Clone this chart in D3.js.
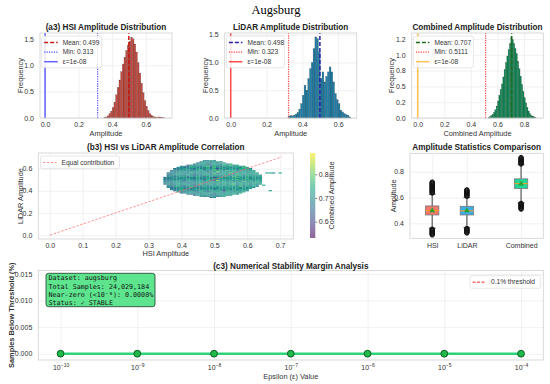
<!DOCTYPE html>
<html>
<head>
<meta charset="utf-8">
<script src="https://cdn.jsdelivr.net/npm/d3@7"></script>
<style>
  body { margin: 0; background: #fff; }
  svg { font-family: "Liberation Sans", Arial, sans-serif; }
</style>
</head>
<body>
<script>
// ---------- data ----------
const binWidth = 0.01;

const hsiStart = 0.35;
const hsiFreq = [0.01,0.02,0.04,0.08,0.13,0.20,0.30,0.44,0.58,0.72,0.88,1.02,1.15,1.28,1.38,1.45,1.53,1.50,
                 1.40,1.25,1.05,0.85,0.66,0.48,0.33,0.22,0.14,0.08,0.05,0.03,0.02,0.01,0.02,0.02,0.01,0.01];

const lidarStart = 0.32;
const lidarFreq = [0.03,0.04,0.04,0.05,0.07,0.10,0.16,0.26,0.41,0.59,0.50,0.71,0.89,1.00,1.25,1.46,1.43,1.19,
                   0.71,0.83,0.65,0.75,0.83,0.92,0.83,0.65,0.44,0.33,0.26,0.14,0.11,0.08,0.06,0.05,0.02];

const combStart = 0.53;
const combFreq = [0.01,0.02,0.04,0.06,0.09,0.13,0.19,0.27,0.36,0.45,0.54,0.65,0.77,0.88,0.98,1.08,1.18,1.28,
                  1.24,1.18,1.10,1.02,0.90,0.78,0.66,0.53,0.42,0.32,0.24,0.17,0.11,0.07,0.04,0.03,0.02,0.01];

const stats = [
  { name: 'HSI',      mean: 0.499, min: 0.313 },
  { name: 'LiDAR',    mean: 0.498, min: 0.323 },
  { name: 'Combined', mean: 0.707, min: 0.5111 }
];
const epsilonValue = 1e-8;

// scatter cloud: rows of LiDAR amplitude (top 0.67 -> bottom 0.34), columns of HSI amplitude 0.35 -> 0.70
// each digit = combined amplitude level, '.' = no samples
const cloudTopL = 0.67, cloudLeftH = 0.35, cloudStep = 0.01;
const combinedLevels = [0.53,0.56,0.59,0.62,0.66,0.70,0.74,0.78,0.82,0.86];
const cloudRows = [
  "............5465....................",
  "...........5564565..................",
  "..........456556465.................",
  ".........556545665756...............",
  ".......4556565465566756.............",
  ".....55465556756546565665...........",
  "....5545665556475656566576..........",
  "...455655465565635656556665.........",
  "...545565556465756556656566.........",
  "..45565545665556565766565656........",
  "..54556565556465856556566565........",
  ".4556554656556465565756565665..665.6",
  ".5455656545565575656556656566.......",
  ".45565565455665565656576566565......",
  ".55456556565456655665756565656......",
  "455565645565565256565676565665......",
  "545655565465565656556656575656......",
  "455456565565465565665675656566......",
  "545565456556565385656556566565......",
  "455655565465565656656565756566......",
  "554565545656556565665656565665......",
  "455565655456565565656756565656......",
  ".5456556545655656565665656565.6.....",
  ".4556545655465565656565756565.......",
  ".545565565456556565665656565........",
  "..4556545565565456565665656.........",
  "..545655465565656556565656..........",
  "...45565545655656526565665......6...",
  "....554565565456565665656...........",
  ".....4556545656565565656............",
  ".......5456556545656565.............",
  ".........455654565656...............",
  "...........54565456.................",
  "..............45...................."
];

// box plot summary
const boxNames = ['HSI', 'LiDAR', 'Combined'];
const boxPos = [1, 1.78, 3];
const boxColors = ['#f0796b', '#3eaee6', '#22d69a'];
const boxQ1 = [0.465, 0.465, 0.670];
const boxMedian = [0.500, 0.497, 0.708];
const boxQ3 = [0.535, 0.532, 0.745];
const boxMean = [0.499, 0.498, 0.707];
const whiskerLo = [0.362, 0.368, 0.560];
const whiskerHi = [0.625, 0.600, 0.855];
const fliersLo = [
  [0.310,0.315,0.320,0.325,0.330,0.335,0.340,0.345,0.350,0.355],
  [0.325,0.330,0.335,0.340,0.345,0.350,0.355,0.360],
  [0.510,0.515,0.520,0.525,0.530,0.535,0.540,0.545,0.550,0.555]
];
const fliersHi = [
  [0.635,0.640,0.645,0.650,0.655,0.660,0.665,0.670,0.675,0.680,0.685,0.690,0.695,0.700,0.705,0.710,0.715,0.720],
  [0.610,0.615,0.620,0.625,0.630,0.635,0.640,0.645,0.650,0.655,0.660],
  [0.860,0.865,0.870,0.875,0.880,0.885,0.890,0.895,0.900,0.905,0.910]
];

// stability analysis
const epsilons = [1e-10, 1e-9, 1e-8, 1e-7, 1e-6, 1e-5, 1e-4];
const samplesBelow = [0, 0, 0, 0, 0, 0, 0];
const infoLines = ['Dataset: augsburg', 'Total Samples: 24,029,184', 'Near-zero (<10\u207B\u2078): 0.0000%', 'Status: \u2713 STABLE'];

// ---------- drawing ----------
const width = 550, height = 384;
const svg = d3.select('body').append('svg').attr('width', width).attr('height', height);

svg.append('text').attr('x', 276).attr('y', 14).attr('text-anchor', 'middle')
  .style('font-family', '"Liberation Serif", "DejaVu Serif", serif').style('font-size', '12.5px')
  .text('Augsburg');

const GRID = '#ebebeb', SPINE = '#d0d0d0', TICK = '#333';

function frame(g, x, y, xTicks, yTicks, xFmt, yFmt, xPad, yPad) {
  const [x0, x1] = x.range(), [y0, y1] = y.range();
  g.append('g').attr('transform', `translate(0,${y0})`)
    .call(d3.axisBottom(x).tickValues(xTicks).tickSize(-(y0 - y1)).tickPadding(xPad).tickFormat(xFmt))
    .call(a => a.select('.domain').remove())
    .call(a => a.selectAll('line').attr('stroke', GRID).attr('stroke-width', 0.7))
    .call(a => a.selectAll('text').attr('fill', TICK).style('font-size', '7px'));
  g.append('g').attr('transform', `translate(${x0},0)`)
    .call(d3.axisLeft(y).tickValues(yTicks).tickSize(-(x1 - x0)).tickPadding(yPad).tickFormat(yFmt))
    .call(a => a.select('.domain').remove())
    .call(a => a.selectAll('line').attr('stroke', GRID).attr('stroke-width', 0.7))
    .call(a => a.selectAll('text').attr('fill', TICK).style('font-size', '7px'));
}

function border(g, x, y) {
  const [x0, x1] = x.range(), [y0, y1] = y.range();
  g.append('rect').attr('x', x0).attr('y', y1).attr('width', x1 - x0).attr('height', y0 - y1)
    .attr('fill', 'none').attr('stroke', SPINE).attr('stroke-width', 0.8);
}

function title(text, cx, yb) {
  svg.append('text').attr('x', cx).attr('y', yb).attr('text-anchor', 'middle')
    .style('font-size', '8.2px').style('font-weight', 'bold').attr('fill', '#222').text(text);
}
function xLabel(text, cx, yb, bold) {
  svg.append('text').attr('x', cx).attr('y', yb).attr('text-anchor', 'middle')
    .style('font-size', '7.4px').style('font-weight', bold ? 'bold' : 'normal').attr('fill', '#333').text(text);
}
function yLabel(text, cx, cy, bold) {
  svg.append('text').attr('transform', `translate(${cx},${cy}) rotate(-90)`).attr('text-anchor', 'middle')
    .style('font-size', '7.4px').style('font-weight', bold ? 'bold' : 'normal').attr('fill', '#333').text(text);
}

function legend(g, x0, y0, w, items) {
  const lg = g.append('g').attr('transform', `translate(${x0},${y0})`);
  lg.append('rect').attr('width', w).attr('height', items.length * 9.6 + 3).attr('rx', 2)
    .attr('fill', 'rgba(255,255,255,0.85)').attr('stroke', '#d6d6d6').attr('stroke-width', 0.6);
  items.forEach((it, i) => {
    const yy = 6.5 + i * 9.6;
    lg.append('line').attr('x1', 2.5).attr('x2', 16).attr('y1', yy).attr('y2', yy)
      .attr('stroke', it.color).attr('stroke-width', it.width).attr('stroke-dasharray', it.dash)
      .attr('opacity', it.opacity || 1);
    lg.append('text').attr('x', 21).attr('y', yy + 2.3).style('font-size', '6.6px').attr('fill', '#333').text(it.label);
  });
}

const fmt1 = d3.format('.1f');

// ----- histogram panels -----
const histPanels = [
  { start: hsiStart, freq: hsiFreq, left: 40, right: 172, xDom: [-0.03, 0.756], yDom: [0, 1.61],
    xTicks: [0, 0.2, 0.4, 0.6], yTicks: [0, 0.5, 1.0, 1.5], yFmt: fmt1,
    fill: '#c24a40', meanColor: '#c41a12', minColor: '#3b3bff', epsColor: '#3b3bff',
    title: '(a3) HSI Amplitude Distribution', xlabel: 'Amplitude', ylabelX: 20, legendW: 60, s: stats[0] },
  { start: lidarStart, freq: lidarFreq, left: 224.7, right: 356.7, xDom: [-0.0335, 0.7035], yDom: [0, 1.53],
    xTicks: [0, 0.2, 0.4, 0.6], yTicks: [0, 0.5, 1.0, 1.5], yFmt: fmt1,
    fill: '#217ea6', meanColor: '#2323a8', minColor: '#ff3030', epsColor: '#ff2020',
    title: 'LiDAR Amplitude Distribution', xlabel: 'Amplitude', ylabelX: 205, legendW: 58, s: stats[1] },
  { start: combStart, freq: combFreq, left: 411.7, right: 543.3, xDom: [-0.045, 0.945], yDom: [0, 1.345],
    xTicks: [0, 0.2, 0.4, 0.6, 0.8], yTicks: [0, 0.25, 0.5, 0.75, 1.0, 1.25], yFmt: d => ({0:'0.0',0.25:'0.2',0.5:'0.5',0.75:'0.8',1:'1.0',1.25:'1.2'})[d],
    fill: '#0f8a55', meanColor: '#1d6b1d', minColor: '#ff3030', epsColor: '#ffb42a',
    title: 'Combined Amplitude Distribution', xlabel: 'Combined Amplitude', ylabelX: 391.7, legendW: 60, s: stats[2] }
];

histPanels.forEach(p => {
  const g = svg.append('g');
  const x = d3.scaleLinear().domain(p.xDom).range([p.left, p.right]);
  const y = d3.scaleLinear().domain(p.yDom).range([118, 33]);
  frame(g, x, y, p.xTicks, p.yTicks, fmt1, p.yFmt, 4.5, 6);
  const bins = p.freq.map((f, i) => ({ x0: p.start + i * binWidth, f }));
  g.append('g').selectAll('rect').data(bins).join('rect')
    .attr('x', d => x(d.x0)).attr('width', d => x(d.x0 + binWidth) - x(d.x0))
    .attr('y', d => y(d.f)).attr('height', d => y(0) - y(d.f))
    .attr('fill', p.fill).attr('stroke', 'rgba(0,0,0,0.35)').attr('stroke-width', 0.4);
  const vline = (v, color, w, dash, op) => g.append('line').attr('x1', x(v)).attr('x2', x(v))
    .attr('y1', 118).attr('y2', 33).attr('stroke', color).attr('stroke-width', w)
    .attr('stroke-dasharray', dash).attr('opacity', op);
  vline(p.s.mean, p.meanColor, 1.5, '4,2', 1);
  vline(p.s.min, p.minColor, 1.2, '1.2,1.2', 0.9);
  vline(epsilonValue, p.epsColor, 1.5, null, 0.8);
  border(g, x, y);
  legend(g, p.left + 1.7, 36, p.legendW, [
    { color: p.meanColor, width: 1.5, dash: '4,2', label: `Mean: ${p.s.mean}` },
    { color: p.minColor, width: 1.2, dash: '1.2,1.2', label: `Min: ${p.s.min}`, opacity: 0.9 },
    { color: p.epsColor, width: 1.5, dash: null, label: 'ε=1e-08', opacity: 0.8 }
  ]);
  title(p.title, (p.left + p.right) / 2, 30);
  xLabel(p.xlabel, (p.left + p.right) / 2, 136);
  yLabel('Frequency', p.ylabelX + 2.6, 75.5);
});

// ----- scatter panel -----
{
  const g = svg.append('g');
  const x = d3.scaleLinear().domain([-0.035, 0.74]).range([38.3, 293.3]);
  const y = d3.scaleLinear().domain([-0.035, 0.74]).range([239, 153]);
  frame(g, x, y, [0, 0.1, 0.2, 0.3, 0.4, 0.5, 0.6, 0.7], [0, 0.2, 0.4, 0.6], fmt1, fmt1, 4.5, 6);
  const color = d3.scaleSequential(d3.interpolateViridis).domain([0.531, 0.89]);
  const cells = [];
  cloudRows.forEach((row, r) => row.split('').forEach((ch, c) => {
    if (ch !== '.') cells.push({ h: cloudLeftH + c * cloudStep, l: cloudTopL - r * cloudStep, v: combinedLevels[+ch] });
  }));
  g.append('g').selectAll('rect').data(cells).join('rect')
    .attr('x', d => x(d.h - cloudStep / 2)).attr('width', x(cloudStep) - x(0))
    .attr('y', d => y(d.l + cloudStep / 2)).attr('height', y(0) - y(cloudStep))
    .attr('fill', d => color(d.v));
  g.append('line').attr('x1', x(0)).attr('y1', y(0)).attr('x2', x(0.705)).attr('y2', y(0.705))
    .attr('stroke', '#ff6b6b').attr('stroke-width', 1).attr('stroke-dasharray', '2.5,1.5').attr('opacity', 0.7);
  border(g, x, y);
  legend(g, 40.5, 156, 79, [{ color: '#ff6b6b', width: 1, dash: '2.5,1.5', label: 'Equal contribution', opacity: 0.7 }]);
  title('(b3) HSI vs LiDAR Amplitude Correlation', 165.8, 150);
  xLabel('HSI Amplitude', 165.8, 256);
  yLabel('LiDAR Amplitude', 22.6, 196);

  // colorbar
  const cb = d3.scaleLinear().domain([0.531, 0.89]).range([238, 153]);
  const defs = svg.append('defs');
  const grad = defs.append('linearGradient').attr('id', 'vir').attr('x1', 0).attr('y1', 1).attr('x2', 0).attr('y2', 0);
  d3.range(0, 1.01, 0.1).forEach(t => grad.append('stop').attr('offset', t).attr('stop-color', d3.interpolateViridis(t)));
  g.append('rect').attr('x', 310).attr('y', 153).attr('width', 5.3).attr('height', 85)
    .attr('fill', 'url(#vir)').attr('opacity', 0.6);
  g.append('g').attr('transform', 'translate(315.3,0)')
    .call(d3.axisRight(cb).tickValues([0.6, 0.7, 0.8]).tickSize(2).tickPadding(1.5).tickFormat(fmt1))
    .call(a => a.select('.domain').remove())
    .call(a => a.selectAll('line').attr('stroke', '#333').attr('stroke-width', 0.6))
    .call(a => a.selectAll('text').attr('fill', TICK).style('font-size', '7px'));
  yLabel('Combined Amplitude', 334.3, 195.5);
}

// ----- box plot panel -----
{
  const g = svg.append('g');
  const x = d3.scaleLinear().domain([0.5, 3.5]).range([410, 543.3]);
  const y = d3.scaleLinear().domain([0.284, 0.943]).range([238.3, 153.3]);
  const [y0, y1] = y.range();
  g.append('g').attr('transform', `translate(0,${y0})`)
    .call(d3.axisBottom(x).tickValues(boxPos).tickSize(-(y0 - y1)).tickPadding(4.5).tickFormat((d, i) => boxNames[i]))
    .call(a => a.select('.domain').remove())
    .call(a => a.selectAll('line').attr('stroke', GRID).attr('stroke-width', 0.7))
    .call(a => a.selectAll('text').attr('fill', TICK).style('font-size', '7px'));
  g.append('g').attr('transform', 'translate(410,0)')
    .call(d3.axisLeft(y).tickValues([0.4, 0.6, 0.8]).tickSize(-133.3).tickPadding(6).tickFormat(fmt1))
    .call(a => a.select('.domain').remove())
    .call(a => a.selectAll('line').attr('stroke', GRID).attr('stroke-width', 0.7))
    .call(a => a.selectAll('text').attr('fill', TICK).style('font-size', '7px'));
  const bw = 13.3;
  boxNames.forEach((n, i) => {
    const cx = x(boxPos[i]);
    g.append('line').attr('x1', cx).attr('x2', cx).attr('y1', y(whiskerLo[i])).attr('y2', y(boxQ1[i]))
      .attr('stroke', '#666').attr('stroke-width', 1.3);
    g.append('line').attr('x1', cx).attr('x2', cx).attr('y1', y(whiskerHi[i])).attr('y2', y(boxQ3[i]))
      .attr('stroke', '#666').attr('stroke-width', 1.3);
    [whiskerLo[i], whiskerHi[i]].forEach(v => g.append('line').attr('x1', cx - 3.3).attr('x2', cx + 3.3)
      .attr('y1', y(v)).attr('y2', y(v)).attr('stroke', '#666').attr('stroke-width', 1.3));
    fliersLo[i].concat(fliersHi[i]).forEach(v => g.append('circle').attr('cx', cx).attr('cy', y(v)).attr('r', 2.2)
      .attr('fill', 'none').attr('stroke', '#111').attr('stroke-width', 1));
    g.append('rect').attr('x', cx - bw / 2).attr('width', bw).attr('y', y(boxQ3[i])).attr('height', y(boxQ1[i]) - y(boxQ3[i]))
      .attr('fill', boxColors[i]).attr('stroke', '#777').attr('stroke-width', 0.8);
    g.append('line').attr('x1', cx - bw / 2).attr('x2', cx + bw / 2).attr('y1', y(boxMedian[i])).attr('y2', y(boxMedian[i]))
      .attr('stroke', '#ff9f1a').attr('stroke-width', 1);
    g.append('path').attr('d', d3.symbol(d3.symbolTriangle, 14)())
      .attr('transform', `translate(${cx},${y(boxMean[i])})`).attr('fill', '#2ca02c');
  });
  border(g, x, y);
  title('Amplitude Statistics Comparison', 476.7, 150);
  yLabel('Amplitude', 396, 195.8);
}

// ----- stability panel -----
{
  const g = svg.append('g');
  const x = d3.scaleLog().domain([Math.pow(10, -10.29), Math.pow(10, -3.71)]).range([38.3, 543.3]);
  const y = d3.scaleLinear().domain([-0.00118, 0.01565]).range([360, 270.5]);
  const [y0, y1] = y.range();
  const xa = g.append('g').attr('transform', `translate(0,${y0})`)
    .call(d3.axisBottom(x).tickValues(epsilons).tickSize(-(y0 - y1)).tickPadding(5).tickFormat(() => ''))
    .call(a => a.select('.domain').remove())
    .call(a => a.selectAll('line').attr('stroke', GRID).attr('stroke-width', 0.7));
  xa.selectAll('.tick text').each(function(d) {
    const t = d3.select(this).attr('fill', TICK).style('font-size', '7px');
    t.append('tspan').text('10');
    t.append('tspan').attr('dy', '-0.55em').style('font-size', '5px').text('\u2212' + Math.round(-Math.log10(d)));
  });
  g.append('g').attr('transform', 'translate(38.3,0)')
    .call(d3.axisLeft(y).tickValues([0, 0.005, 0.01, 0.015]).tickSize(-505).tickPadding(6).tickFormat(d3.format('.3f')))
    .call(a => a.select('.domain').remove())
    .call(a => a.selectAll('line').attr('stroke', GRID).attr('stroke-width', 0.7))
    .call(a => a.selectAll('text').attr('fill', TICK).style('font-size', '7px'));
  const pts = epsilons.map((e, i) => ({ e, v: samplesBelow[i] }));
  g.append('path').datum(pts).attr('d', d3.line().x(d => x(d.e)).y(d => y(d.v)))
    .attr('fill', 'none').attr('stroke', '#2ed47a').attr('stroke-width', 2.6);
  g.append('g').selectAll('circle').data(pts).join('circle')
    .attr('cx', d => x(d.e)).attr('cy', d => y(d.v)).attr('r', 3.4)
    .attr('fill', '#1fba4a').attr('stroke', '#0d5e22').attr('stroke-width', 1);
  border(g, d3.scaleLinear().range([38.3, 543.3]), y);

  const tb = g.append('g').attr('transform', 'translate(46,273.3)');
  tb.append('rect').attr('width', 109).attr('height', 33.4).attr('rx', 2.5)
    .attr('fill', '#5ee38e').attr('stroke', '#1f3a2a').attr('stroke-width', 0.8);
  infoLines.forEach((t, i) => tb.append('text').attr('x', 2.5).attr('y', 7.2 + i * 8.2)
    .style('font-family', '"DejaVu Sans Mono", "Liberation Mono", monospace').style('font-size', '6.7px')
    .attr('fill', '#111').text(t));

  legend(g, 470, 275.7, 70.7, [{ color: '#ff4d4d', width: 1.4, dash: '3,1.5', label: '0.1% threshold', opacity: 0.8 }]);
  title('(c3) Numerical Stability Margin Analysis', 290.8, 269);
  xLabel('Epsilon (\u03b5) Value', 290.8, 378.5);
  yLabel('Samples Below Threshold (%)', 14.3, 315.2, true);
}
</script>
</body>
</html>
